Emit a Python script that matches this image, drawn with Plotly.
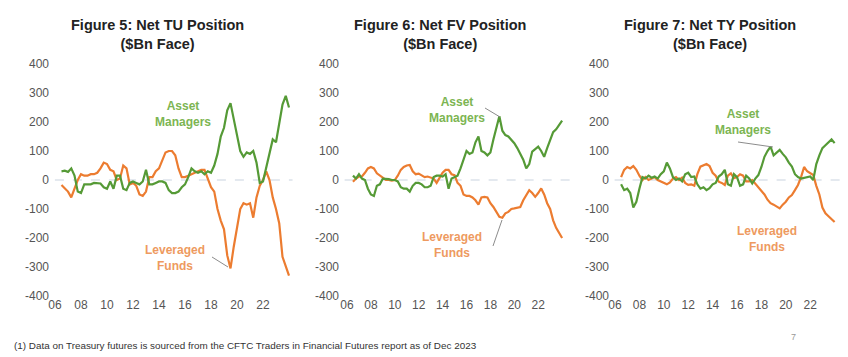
import plotly.graph_objects as go

# ---------------- data (quarterly readings, $Bn face) ----------------
years = [2006.5 + 0.25 * i for i in range(71)]  # 2006.50 ... 2024.00

tu_asset = [30, 32,
            28, 40, 15, -40,
            -45, -15, -15, -15,
            -10, -10, -12, -25,
            -30, -5, -30, 15,
            15, -30, -35, -10,
            -5, -10, -15, -5,
            35, -15, -15, -10,
            -5, -5, -10, -35,
            -45, -45, -40, -25,
            -15, 10, 40, 30,
            25, 30, 20, 30,
            25, 50, 90, 150,
            180, 240, 265, 210,
            150, 100, 80, 95,
            90, 100, 60, -10,
            -5, 45, 90, 140,
            130, 200, 260, 290,
            250]
tu_lev = [-17, -30,
          -40, -60, -30, 0,
          20, 15, 15, 20,
          20, 25, 40, 60,
          55, 35, 30, 0,
          5, 50, 40, -15,
          -10, -20, -50, -55,
          -40, 10, 10, 30,
          40, 70, 95, 100,
          100, 85, 40, 10,
          10, 15, 20, 25,
          30, 35, 35, 5,
          -25, -40, -100, -140,
          -170, -260, -305, -230,
          -170, -100, -80, -85,
          -80, -130, -60, -20,
          0, 30, 0, -60,
          -100, -150, -265, -300,
          -330]

fv_asset = [15, 5,
            20, 5, 0, -30,
            -50, -55, -20, -15,
            5, 5, 3, 0,
            0, -5, -25, -30,
            -30, -40, -20, -10,
            -10, -15, -25, -25,
            -20, 10, 15, 15,
            12, 20, -30, 5,
            10, 15, 40, 70,
            100, 90, 95, 130,
            150, 100, 95, 85,
            95, 140, 180, 220,
            170, 155, 150, 140,
            127, 110, 92, 70,
            40, 55, 98, 105,
            115, 100, 80, 110,
            140, 165, 175, 190,
            205]
fv_lev = [-6, 5,
          12, 12, 25, 40,
          45, 40, 23, 15,
          5, 0, 0, -2,
          0, 15, 35, 45,
          50, 52, 30, 20,
          22, 15, 10, 12,
          8, 5, -10, 10,
          25, 35, 35, 20,
          17, -10, -20, -50,
          -55, -55, -60, -70,
          -85, -60, -58, -60,
          -80, -93, -110, -127,
          -130, -115, -110, -100,
          -98, -95, -93, -70,
          -50, -35, -45, -58,
          -45, -29, -50, -80,
          -100, -139, -165, -185,
          -200]

ty_asset = [-15, -35,
            -30, -45, -95, -75,
            -30, 10, 5, 15,
            8, 12, 5, 20,
            30, 60, 40, 10,
            0, 5, -5, 20,
            25, 10, 12, -15,
            -30, -25, -35, -28,
            -15, -10, 12, 20,
            35, -15, -20, 20,
            10, -20, -15, 15,
            5, -12, 5, 17,
            45, 80, 100, 115,
            85, 95, 104, 90,
            78, 60, 46, 20,
            10, 5, 8, 10,
            12, 0, 55, 85,
            110, 120, 130, 140,
            127]
ty_lev = [10, 35,
          45, 40, 48, 35,
          15, 0, 10, 0,
          5, 10, 0, -5,
          -10, -15, -8, 5,
          10, 0, 8, -10,
          -17, -15, -20, 20,
          46, 50, 55, 48,
          25, 15, -6, -10,
          -17, 15, 23, 6,
          10, 20, 15, -5,
          -5, 0, -12, -25,
          -35, -50, -68, -80,
          -85, -92, -98, -85,
          -75, -60, -52, -35,
          -17, 10, 45, 30,
          23, 17, -20, -50,
          -95, -115, -125, -135,
          -145]

titles = ["Figure 5: Net TU Position", "Figure 6: Net FV Position", "Figure 7: Net TY Position"]
subtitle = "($Bn Face)"
x_tick_vals = [2006, 2008, 2010, 2012, 2014, 2016, 2018, 2020, 2022]
x_tick_text = ["06", "08", "10", "12", "14", "16", "18", "20", "22"]
y_tick_vals = [400, 300, 200, 100, 0, -100, -200, -300, -400]
y_tick_text = ["400", "300", "200", "100", "0", "-100", "-200", "-300", "-400"]
footnote = "(1) Data on Treasury futures is sourced from the CFTC Traders in Financial Futures report as of Dec 2023"
page_no = "7"

for s in (tu_asset, tu_lev, fv_asset, fv_lev, ty_asset, ty_lev):
    assert len(s) == len(years)

# ---------------- layout helpers ----------------
W, H = 848, 357
FONT = "Liberation Sans, Arial, sans-serif"
GREEN = "#559a36"
ORANGE = "#ec7c30"
GREEN_TXT = "#7cb552"
ORANGE_TXT = "#ee9a60"


def fx(x):
    return x / W


def fy(y):
    return 1 - y / H


# panel geometry: (left px, right px, px of 2006, px per year, title centre px)
panels = [
    (50, 295, 55, 13.0, 157),
    (340, 572, 347, 11.95, 440),
    (610, 842, 615, 12.2, 710),
]
series = [(tu_asset, tu_lev), (fv_asset, fv_lev), (ty_asset, ty_lev)]

fig = go.Figure()
layout = dict(
    width=W, height=H, autosize=False,
    margin=dict(l=0, r=0, t=0, b=0, pad=0, autoexpand=False),
    paper_bgcolor="white", plot_bgcolor="white",
    showlegend=False,
    font=dict(family=FONT, color="#555555"),
)
annotations = []
shapes = []

for i, ((L, R, X06, ppy, tc), (am, lf)) in enumerate(zip(panels, series)):
    n = "" if i == 0 else str(i + 1)
    xa, ya = "x" + n, "y" + n
    fig.add_trace(go.Scatter(x=years, y=lf, mode="lines", xaxis=xa, yaxis=ya,
                             line=dict(color=ORANGE, width=2.2)))
    fig.add_trace(go.Scatter(x=years, y=am, mode="lines", xaxis=xa, yaxis=ya,
                             line=dict(color=GREEN, width=2.2)))
    layout["xaxis" + n] = dict(
        domain=[fx(L), fx(R)], anchor=ya, automargin=False,
        range=[2006 - (X06 - L) / ppy, 2006 + (R - X06) / ppy],
        tickmode="array", tickvals=x_tick_vals, ticktext=x_tick_text,
        showgrid=False, zeroline=False, showline=False, ticks="",
        tickfont=dict(size=12, color="#555555", family=FONT),
    )
    layout["yaxis" + n] = dict(
        domain=[fy(296), fy(64)], anchor=xa, range=[-400, 400], automargin=False,
        tickmode="array", tickvals=y_tick_vals, ticktext=y_tick_text,
        showgrid=False, zeroline=False, showline=False, ticks="",
        tickfont=dict(size=12, color="#555555", family=FONT),
    )
    shapes.append(dict(type="line", xref=xa + " domain", yref=ya, x0=0.02, x1=0.99, y0=0, y1=0,
                       line=dict(color="#c9d3df", width=1, dash="dash"), layer="below"))
    annotations.append(dict(xref="paper", yref="paper", x=fx(tc), y=fy(34),
                            text="<b>" + titles[i] + "<br>" + subtitle + "</b>",
                            showarrow=False, xanchor="center", yanchor="middle",
                            font=dict(size=14.5, color="#222222", family=FONT)))

# series labels
labels = [
    ("Asset<br>Managers", 183, 114, GREEN_TXT),
    ("Leveraged<br>Funds", 175, 258, ORANGE_TXT),
    ("Asset<br>Managers", 457, 110, GREEN_TXT),
    ("Leveraged<br>Funds", 452, 245, ORANGE_TXT),
    ("Asset<br>Managers", 743, 122, GREEN_TXT),
    ("Leveraged<br>Funds", 767, 239, ORANGE_TXT),
]
for txt, cx, cy, col in labels:
    annotations.append(dict(xref="paper", yref="paper", x=fx(cx), y=fy(cy), text="<b>" + txt + "</b>",
                            showarrow=False, xanchor="center", yanchor="middle",
                            font=dict(size=12, color=col, family=FONT)))

connectors = [(212, 257, 228, 267), (485, 108, 500, 117), (493, 246, 502, 220), (738, 142, 773, 147)]
for x0, y0, x1, y1 in connectors:
    shapes.append(dict(type="line", xref="paper", yref="paper", x0=fx(x0), y0=fy(y0), x1=fx(x1), y1=fy(y1),
                       line=dict(color="#8c8c8c", width=1)))

annotations.append(dict(xref="paper", yref="paper", x=fx(12), y=fy(345), text=footnote,
                        showarrow=False, xanchor="left", yanchor="middle",
                        font=dict(size=9.9, color="#333333", family=FONT)))
annotations.append(dict(xref="paper", yref="paper", x=fx(793), y=fy(337), text=page_no,
                        showarrow=False, xanchor="center", yanchor="middle",
                        font=dict(size=9, color="#999999", family=FONT)))

layout["annotations"] = annotations
layout["shapes"] = shapes
fig.update_layout(**layout)
fig.write_html("out.html",
               config={"displayModeBar": False, "staticPlot": True},
               post_script="document.body.style.margin='0px';document.body.style.padding='0px';")
